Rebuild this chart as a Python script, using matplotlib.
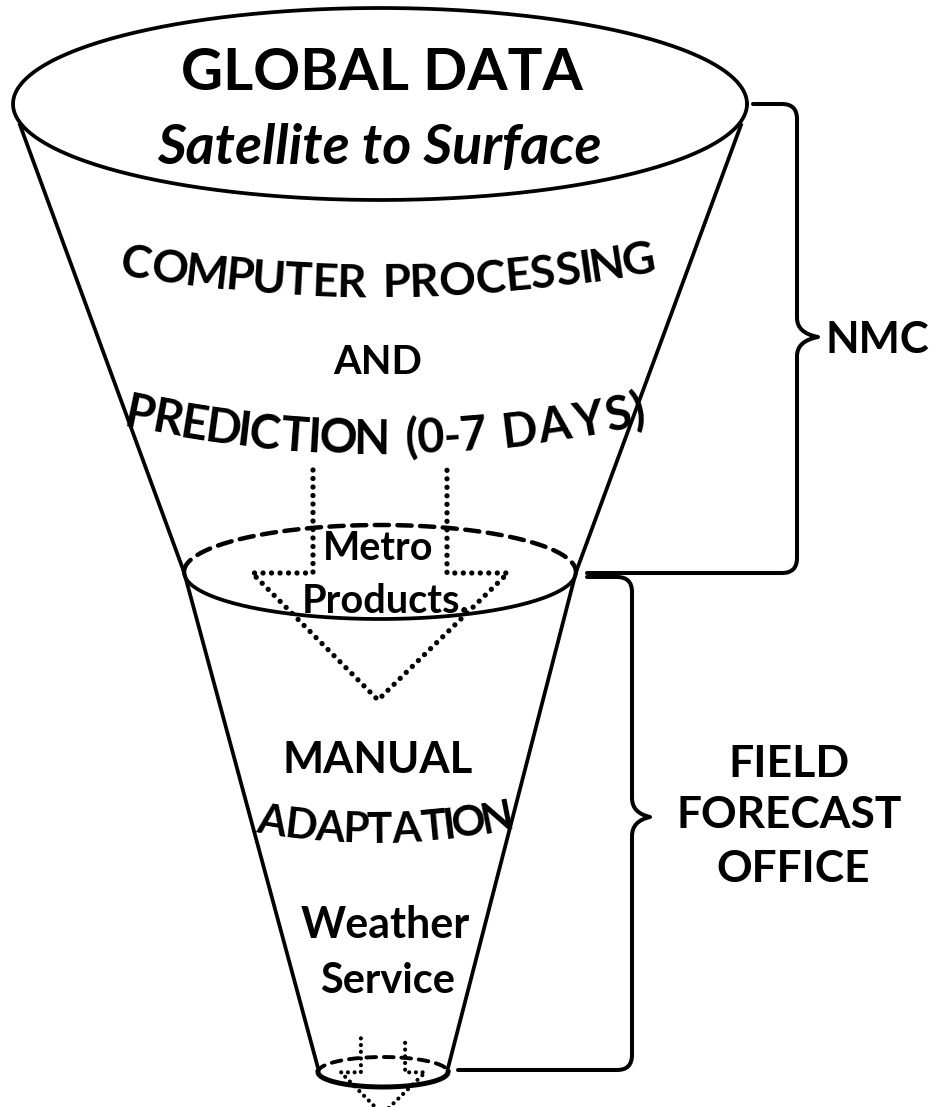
import numpy as np
import matplotlib
matplotlib.use("Agg")
import matplotlib.pyplot as plt
from matplotlib.path import Path
from matplotlib.patches import PathPatch
from matplotlib.textpath import TextPath
from matplotlib.font_manager import FontProperties

# ---- diagram text ----
top_lines = ["GLOBAL DATA", "Satellite to Surface"]
nmc_lines = ["COMPUTER PROCESSING", "AND", "PREDICTION (0-7 DAYS)"]
product_lines = ["Metro", "Products."]
field_lines = ["MANUAL", "ADAPTATION", "Weather", "Service"]
brace_labels = ["NMC", "FIELD", "FORECAST", "OFFICE"]

FONT = ["Lato", "Liberation Sans", "DejaVu Sans"]
WEIGHT = "bold"
_fp = FontProperties(family=FONT, weight=WEIGHT)
CAP = TextPath((0, 0), "H", size=100, prop=_fp).get_extents().height / 100

W, H = 934, 1107
fig = plt.figure(figsize=(W / 100, H / 100), dpi=100)
ax = fig.add_axes([0, 0, 1, 1])
ax.set_xlim(0, W)
ax.set_ylim(H, 0)
ax.axis("off")

LW = 2.7


def ell_pts(cx, cy, w, h, t0, t1, n=200):
    t = np.linspace(t0, t1, n)
    return cx + w / 2 * np.cos(t), cy + h / 2 * np.sin(t)


def dotted(xs, ys, lw=3.8, gap=1.6):
    ax.plot(xs, ys, color="k", lw=lw, linestyle=(0, (0.01, gap)),
            dash_capstyle="round")


def ink_width(s, px, style="normal"):
    fp = FontProperties(family=FONT, weight=WEIGHT, style=style)
    return TextPath((0, 0), s, size=px, prop=fp).get_extents().width


def label(s, x0, x1, base, cap, style="normal"):
    px = cap / CAP
    w = ink_width(s, px, style)
    span = x1 - x0
    if w > span * 1.03:
        px *= span * 1.03 / w
    elif w < span * 0.94:
        px *= min(1.06, span * 0.94 / w)
    ax.text((x0 + x1) / 2, base, s, fontsize=px * 0.72, family=FONT,
            weight=WEIGHT, style=style, ha="center", va="baseline")


def curved(s, x0, x1, ys, cap):
    px = cap / CAP
    widths = [0.3 * px if ch == " " else ink_width(ch, px) for ch in s]
    if sum(widths) > (x1 - x0):
        k = (x1 - x0) / sum(widths) * 0.97
        px *= k
        widths = [w * k for w in widths]
    gap = (x1 - x0 - sum(widths)) / (len(s) - 1)
    coef = np.polyfit([x0, (x0 + x1) / 2, x1], ys, 2)
    dcoef = np.polyder(coef)
    x = x0
    for ch, w in zip(s, widths):
        xc = x + w / 2
        if ch != " ":
            ang = np.degrees(np.arctan(-np.polyval(dcoef, xc)))
            ax.text(xc, np.polyval(coef, xc), ch, fontsize=px * 0.72,
                    family=FONT, weight=WEIGHT, rotation=ang,
                    rotation_mode="anchor", ha="center", va="baseline")
        x += w + gap


# ---- funnel outline ----
# top rim
ex, ey = ell_pts(380, 104, 734, 192, 0, 2 * np.pi, 400)
ax.plot(ex, ey, color="k", lw=LW)
# upper cone
ax.plot([20, 184], [125, 572], color="k", lw=LW)
ax.plot([741, 576], [125, 572], color="k", lw=LW)
# middle rim: solid front, dashed back
ex, ey = ell_pts(380, 572, 392, 94, 0, np.pi)
ax.plot(ex, ey, color="k", lw=LW)
ex, ey = ell_pts(380, 572, 392, 94, np.pi, 2 * np.pi)
ax.plot(ex, ey, color="k", lw=3.2, linestyle=(0, (3.2, 1.9)),
        dash_capstyle="round")
# lower cone
ax.plot([184, 318], [572, 1068], color="k", lw=LW)
ax.plot([576, 448], [572, 1068], color="k", lw=LW)
# bottom rim
ex, ey = ell_pts(383, 1072, 130, 30, 0, np.pi)
ax.plot(ex, ey, color="k", lw=3.6)
ex, ey = ell_pts(383, 1072, 130, 30, np.pi, 2 * np.pi)
ax.plot(ex, ey, color="k", lw=2.8, linestyle=(0, (2.5, 2.0)),
        dash_capstyle="round")

# ---- dotted flow arrows ----
arrow_x = np.array([-67, -67, -128, -2, 128, 67, 67])
arrow_y = np.array([-102, 1, 1, 128, 1, 1, -102])
dotted(380 + arrow_x, 572 + arrow_y)
s = 0.33
dotted(383 + s * arrow_x, 1072 + s * arrow_y, lw=3.0, gap=1.6)

# ---- braces ----
M, L, C = Path.MOVETO, Path.LINETO, Path.CURVE3


def brace(verts):
    codes = [M, L, C, C, L, C, C, C, C, L, C, C, L]
    ax.add_patch(PathPatch(Path(verts, codes), fill=False, lw=2.9,
                           capstyle="round", joinstyle="round"))


brace([(753, 104), (782, 104), (797, 104), (797, 119), (797, 318),
       (797, 333), (818, 337), (797, 341), (797, 356), (797, 558),
       (797, 573), (782, 573), (587, 573)])
brace([(587, 577), (617, 577), (632, 577), (632, 592), (632, 798),
       (632, 813), (650, 817), (632, 821), (632, 836), (632, 1055),
       (632, 1070), (617, 1070), (458, 1070)])

# ---- text ----
label(top_lines[0], 173, 590, 90, 42)
label(top_lines[1], 143, 615, 164, 40, style="italic")
curved(nmc_lines[0], 119, 655, [275, 297, 271], 33)
label(nmc_lines[1], 335, 420, 374, 32)
curved(nmc_lines[2], 124, 646, [426, 454, 424], 34)
label(product_lines[0], 327, 430, 560, 32)
label(product_lines[1], 307, 465, 613, 30)
label(field_lines[0], 287, 468, 773, 36)
curved(field_lines[1], 255, 512, [832, 843, 828], 33)
label(field_lines[2], 303, 467, 938, 33)
label(field_lines[3], 318, 457, 993, 30)

label(brace_labels[0], 829, 926, 353, 33)
label(brace_labels[1], 727, 850, 777, 32)
label(brace_labels[2], 680, 898, 828, 32)
label(brace_labels[3], 720, 867, 882, 32)

fig.savefig("out.png", dpi=100)
